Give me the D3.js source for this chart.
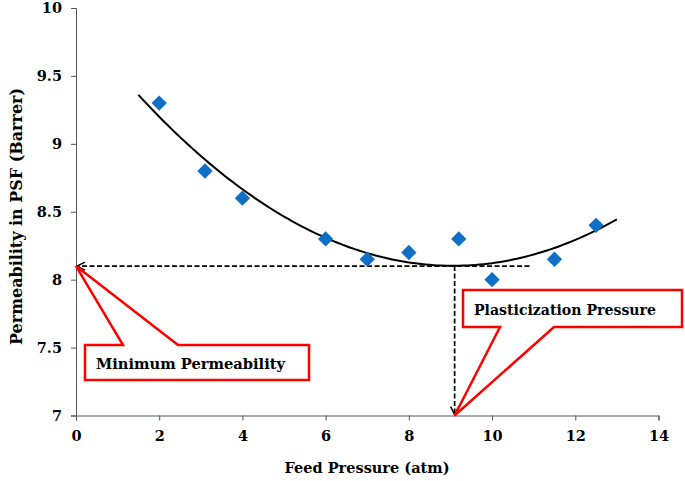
<!DOCTYPE html>
<html>
<head>
<meta charset="utf-8">
<script src="https://cdn.jsdelivr.net/npm/d3@7"></script>
<style>
  body { margin: 0; background: #fff; }
  svg text { font-family: "DejaVu Serif", serif; font-weight: bold; fill: #000; }
</style>
</head>
<body>
<svg id="chart" width="685" height="481"></svg>
<script>
// measured points
const pressure     = [2, 3.1, 4, 6, 7, 8, 9.2, 10, 11.5, 12.5];
const permeability = [9.3, 8.8, 8.6, 8.3, 8.15, 8.2, 8.3, 8.0, 8.15, 8.4];

const xTicks = [0, 2, 4, 6, 8, 10, 12, 14];
const yTicks = [7, 7.5, 8, 8.5, 9, 9.5, 10];

// annotation values
const minPerm = 8.1;        // horizontal dashed line
const plastPressure = 9.1;  // vertical dashed line
const hLineEnd = 10.9;
const trendRange = [1.5, 13];

const svg = d3.select("#chart");

const x = d3.scaleLinear().domain([0, 14]).range([76, 658.5]);
const y = d3.scaleLinear().domain([7, 10]).range([415.5, 8]);

// axes
svg.append("g")
   .attr("transform", `translate(0,${y(7)})`)
   .call(d3.axisBottom(x).tickValues(xTicks).tickSize(5).tickPadding(10).tickFormat(d3.format("")))
   .call(g => g.select(".domain").attr("stroke", "#555"))
   .call(g => g.selectAll(".tick line").attr("stroke", "#555"))
   .call(g => g.selectAll("text").attr("font-size", 14.5).attr("font-family", null));

svg.append("g")
   .attr("transform", `translate(${x(0)},0)`)
   .call(d3.axisLeft(y).tickValues(yTicks).tickSize(5).tickPadding(9).tickFormat(d3.format("")))
   .call(g => g.select(".domain").attr("stroke", "#555"))
   .call(g => g.selectAll(".tick line").attr("stroke", "#555"))
   .call(g => g.selectAll("text").attr("font-size", 14.5).attr("font-family", null));

// axis titles
svg.append("text")
   .attr("x", 367).attr("y", 473)
   .attr("text-anchor", "middle")
   .attr("font-size", 15.5)
   .attr("textLength", 165).attr("lengthAdjust", "spacingAndGlyphs")
   .text("Feed Pressure (atm)");

svg.append("text")
   .attr("transform", "translate(22,216.5) rotate(-90)")
   .attr("text-anchor", "middle")
   .attr("font-size", 16.5)
   .attr("textLength", 257).attr("lengthAdjust", "spacingAndGlyphs")
   .text("Permeability in PSF (Barrer)");

// quadratic trendline (least squares, like an Excel poly trendline)
function quadFit(xs, ys) {
  let s = [0, 0, 0, 0, 0], t = [0, 0, 0];
  xs.forEach((xi, i) => {
    for (let k = 0; k < 5; k++) s[k] += xi ** k;
    for (let k = 0; k < 3; k++) t[k] += ys[i] * xi ** k;
  });
  const A = [[s[0], s[1], s[2]], [s[1], s[2], s[3]], [s[2], s[3], s[4]]];
  const det = m => m[0][0]*(m[1][1]*m[2][2]-m[1][2]*m[2][1])
                 - m[0][1]*(m[1][0]*m[2][2]-m[1][2]*m[2][0])
                 + m[0][2]*(m[1][0]*m[2][1]-m[1][1]*m[2][0]);
  const D = det(A);
  return [0, 1, 2].map(c => {
    const M = A.map((row, r) => row.map((v, j) => j === c ? t[r] : v));
    return det(M) / D;
  });
}
const coef = quadFit(pressure, permeability);
const trend = d3.range(trendRange[0], trendRange[1] + 0.001, 0.1)
  .map(p => [p, coef[0] + coef[1]*p + coef[2]*p*p]);

svg.append("path")
   .datum(trend)
   .attr("fill", "none")
   .attr("stroke", "#000")
   .attr("stroke-width", 2)
   .attr("d", d3.line().x(d => x(d[0])).y(d => y(d[1])).curve(d3.curveMonotoneX));

// arrow marker
svg.append("defs").append("marker")
   .attr("id", "arr")
   .attr("viewBox", "0 0 10 10")
   .attr("refX", 9).attr("refY", 5)
   .attr("markerWidth", 10).attr("markerHeight", 10)
   .attr("markerUnits", "userSpaceOnUse")
   .attr("orient", "auto")
   .append("path")
   .attr("d", "M1,1 L9,5 L1,9")
   .attr("fill", "none").attr("stroke", "#000").attr("stroke-width", 1.5);

// dashed guide lines
svg.append("line")
   .attr("x1", x(hLineEnd)).attr("y1", y(minPerm))
   .attr("x2", x(0) + 1).attr("y2", y(minPerm))
   .attr("stroke", "#000").attr("stroke-width", 1.7)
   .attr("stroke-dasharray", "5,2.5")
   .attr("marker-end", "url(#arr)");

svg.append("line")
   .attr("x1", x(plastPressure)).attr("y1", y(minPerm))
   .attr("x2", x(plastPressure)).attr("y2", y(7) - 1)
   .attr("stroke", "#000").attr("stroke-width", 1.7)
   .attr("stroke-dasharray", "5,2.5")
   .attr("marker-end", "url(#arr)");

// data points as diamonds
svg.selectAll("path.pt")
   .data(pressure.map((p, i) => [p, permeability[i]]))
   .join("path")
     .attr("class", "pt")
     .attr("d", d3.symbol(d3.symbolDiamond2, 150))
     .attr("transform", d => `translate(${x(d[0])},${y(d[1])})`)
     .attr("fill", "#0F6FC6");

// red callouts
function callout(box, tip, baseX, label, textW) {
  const [x0, y0, x1, y1] = box;
  const onTop = tip[1] < y0;
  const pts = onTop
    ? [[x0, y0], [baseX[0], y0], tip, [baseX[1], y0], [x1, y0], [x1, y1], [x0, y1]]
    : [[x0, y0], [x1, y0], [x1, y1], [baseX[1], y1], tip, [baseX[0], y1], [x0, y1]];
  svg.append("path")
     .attr("d", "M" + pts.map(p => p.join(",")).join("L") + "Z")
     .attr("fill", "#fff")
     .attr("stroke", "#FF0000")
     .attr("stroke-width", 2.5)
     .attr("stroke-linejoin", "miter");
  svg.append("text")
     .attr("x", x0 + 11).attr("y", (y0 + y1) / 2 + 6)
     .attr("font-size", 15)
     .attr("textLength", textW).attr("lengthAdjust", "spacingAndGlyphs")
     .text(label);
}

callout([85, 345, 309, 380], [x(0), y(minPerm)], [123, 178], "Minimum Permeability", 189);
callout([463, 290, 682, 327], [x(plastPressure), y(7)], [500, 554], "Plasticization Pressure", 182);
</script>
</body>
</html>
